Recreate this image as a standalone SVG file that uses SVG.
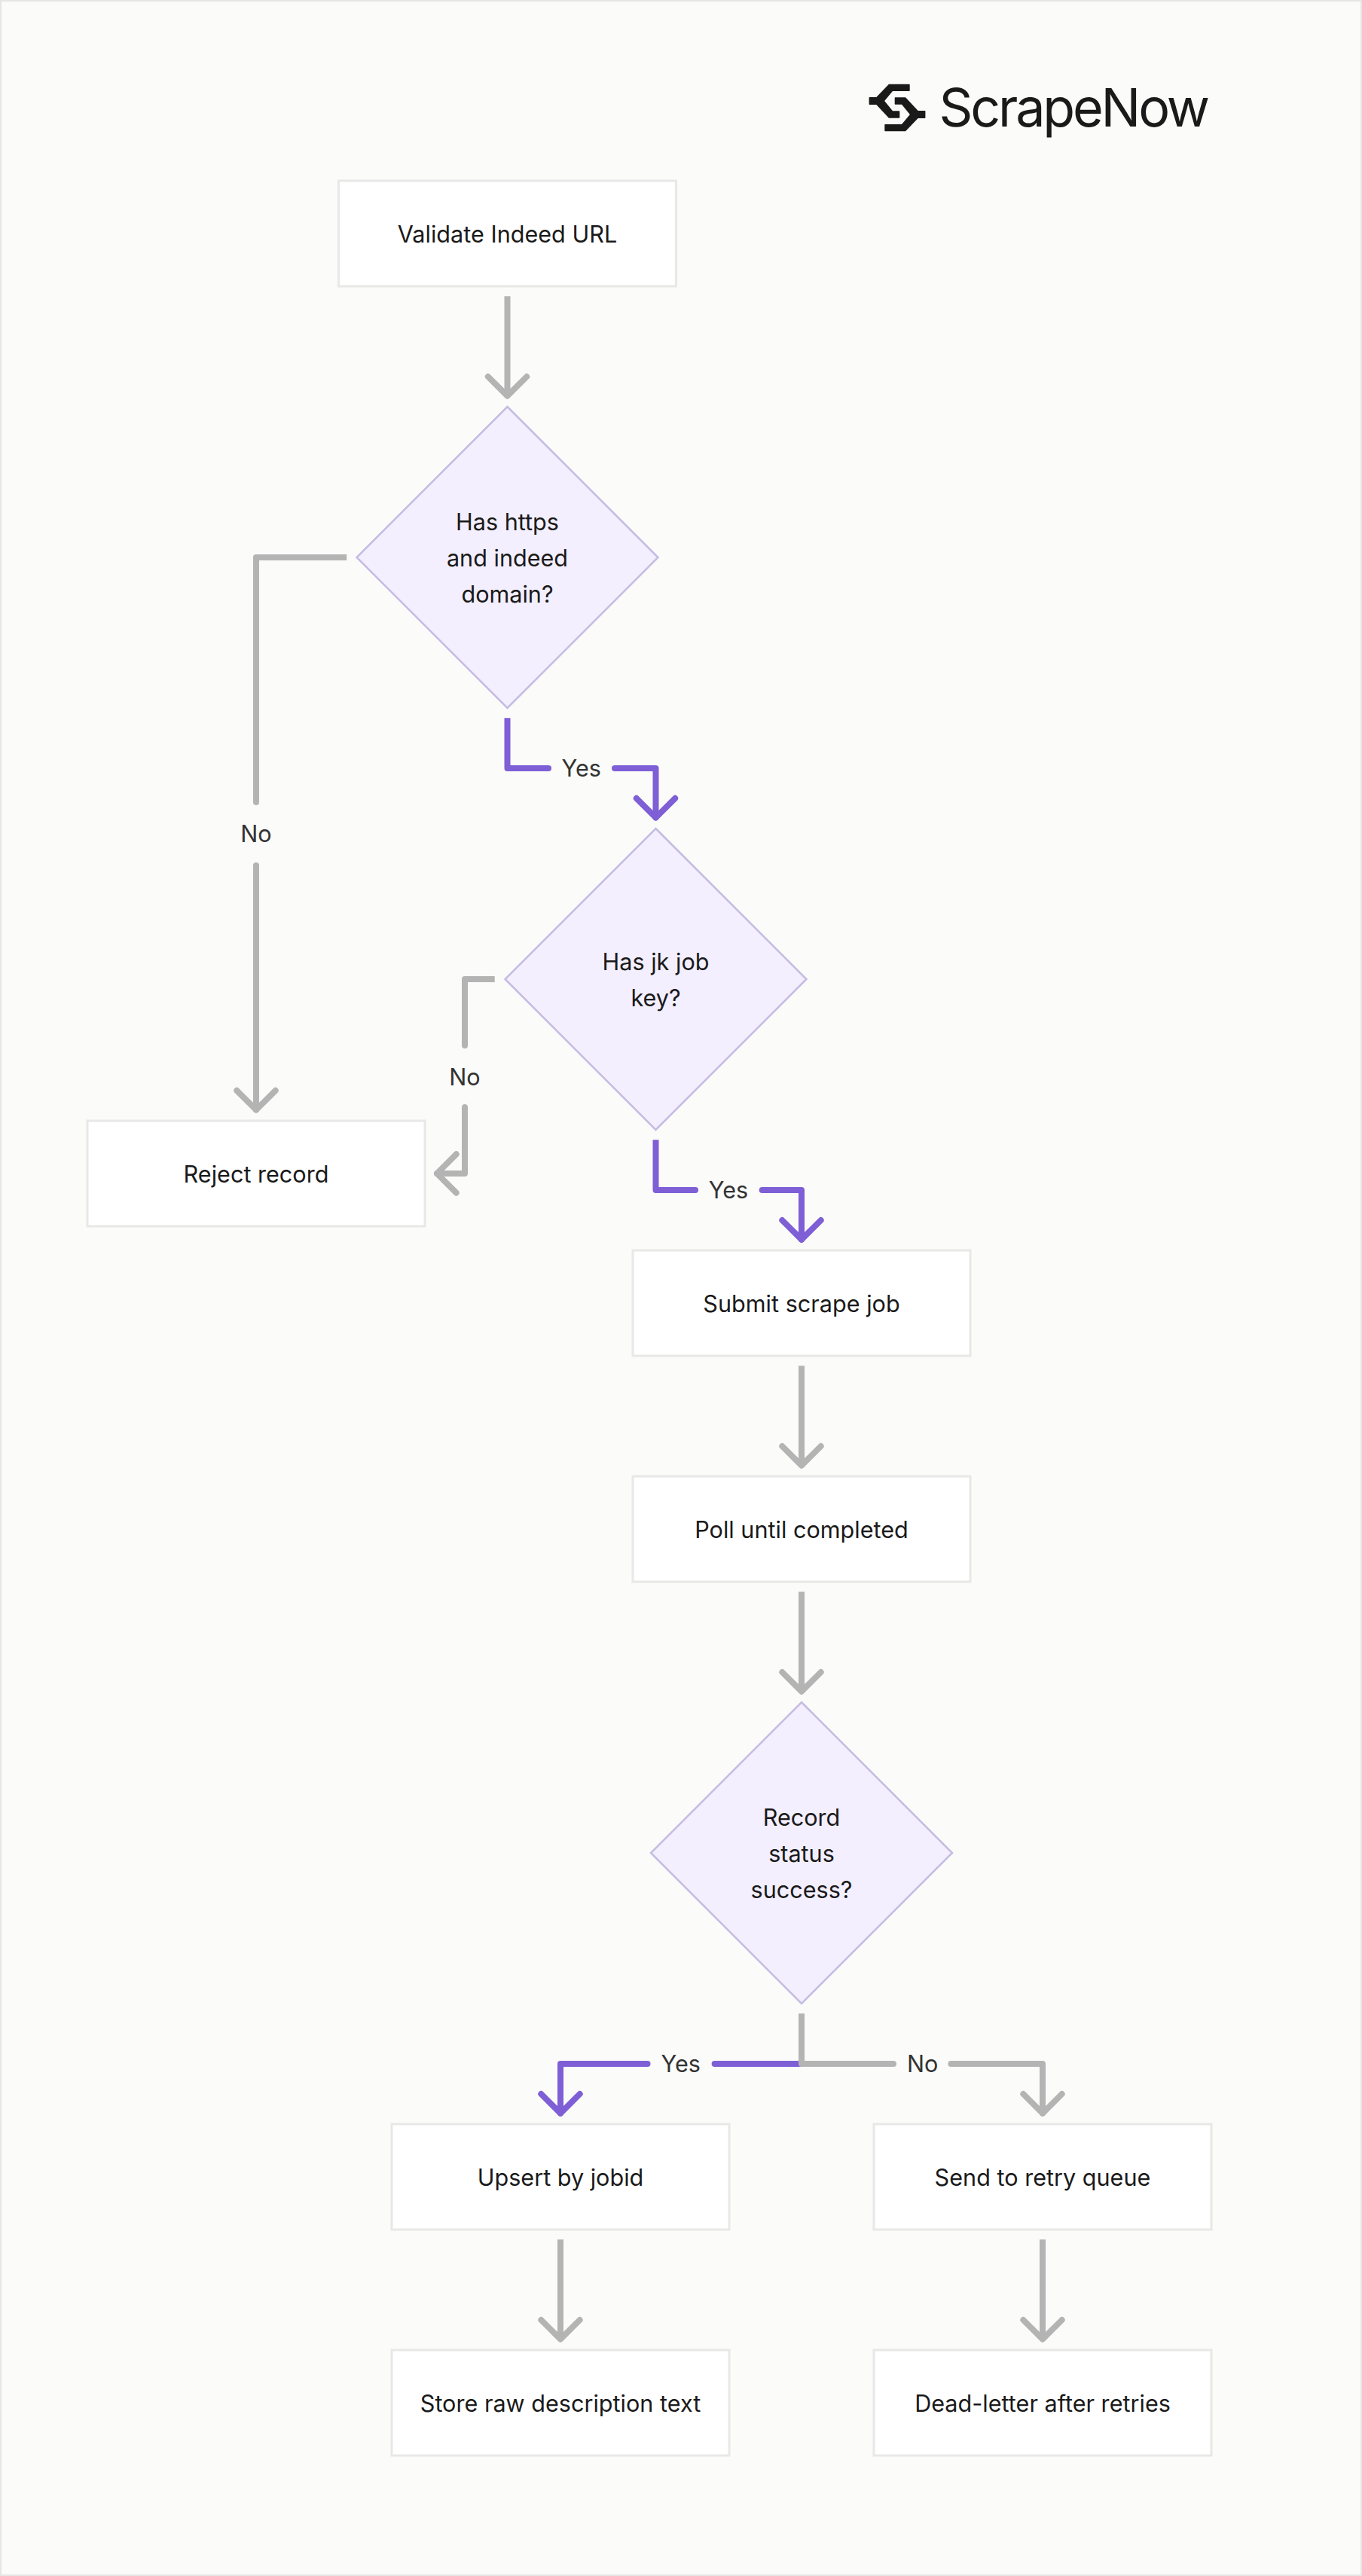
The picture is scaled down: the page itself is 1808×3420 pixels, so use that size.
<svg xmlns="http://www.w3.org/2000/svg" width="1808" height="3420" viewBox="0 0 1808 3420">
<style>
.bg{fill:#fbfbf9;stroke:#e6e6e6;stroke-width:2}
.box{fill:#fff;stroke:#e8e8e7;stroke-width:3}
.dia{fill:#f3effe;stroke:#c5bce3;stroke-width:2.5}
.t{font-family:"Inter","Liberation Sans",sans-serif;font-size:30.6px;fill:#1a1a1a;text-anchor:middle}
.l{font-family:"Inter","Liberation Sans",sans-serif;font-size:30.6px;fill:#333;text-anchor:middle}
.c{fill:none;stroke-width:8;stroke-linejoin:round;stroke-linecap:butt}
.r{stroke-linecap:round}
.g{stroke:#b4b4b4}
.p{stroke:#7e5fd6}
.cg{fill:#b4b4b4}
.cp{fill:#7e5fd6}
.logo{fill:#1a1a1a;stroke:#1a1a1a;stroke-width:1.4;stroke-linejoin:round}
.word{font-family:"Inter","Liberation Sans",sans-serif;font-weight:400;font-size:70px;fill:#1a1a1a}
</style>
<defs>
<marker id="ag" markerUnits="userSpaceOnUse" markerWidth="80" markerHeight="80" refX="40" refY="40" orient="auto" overflow="visible"><path d="M14.3 14.3L40 40L14.3 65.7" fill="none" stroke="#b4b4b4" stroke-width="8" stroke-linecap="round" stroke-linejoin="round"/></marker>
<marker id="ap" markerUnits="userSpaceOnUse" markerWidth="80" markerHeight="80" refX="40" refY="40" orient="auto" overflow="visible"><path d="M14.3 14.3L40 40L14.3 65.7" fill="none" stroke="#7e5fd6" stroke-width="8" stroke-linecap="round" stroke-linejoin="round"/></marker>
<path id="lg" d="M1207 112.4H1180.2L1163.6 129.7H1154.3V138.3H1163.6L1180.2 156H1193.6V148H1184.6L1173.2 134L1184.6 120.3H1207Z"/>
</defs>
<rect class="bg" x="1" y="1" width="1806" height="3418"/>
<g id="logo">
<use href="#lg" class="logo"/>
<use href="#lg" class="logo" transform="rotate(180 1191 143)"/>
<text class="word" x="1246.5" y="167.7" textLength="359.5">ScrapeNow</text>
</g>
<g id="connectors">
<path class="c g" marker-end="url(#ag)" d="M673.5 393.3V525.7"/>
<path class="c g" d="M460.2 740H340V1065"/>
<circle class="cg" cx="340" cy="1065" r="4"/>
<path class="c g r" marker-end="url(#ag)" d="M340 1149V1473.5"/>
<text class="l" x="340" y="1118">No</text>
<path class="c p" d="M673.5 953.3V1020H728"/>
<circle class="cp" cx="728" cy="1020" r="4"/>
<path class="c p r" marker-end="url(#ap)" d="M816 1020H870.5V1085.5"/>
<text class="l" x="771.7" y="1031">Yes</text>
<path class="c g" d="M656.7 1300H617V1388"/>
<circle class="cg" cx="617" cy="1388" r="4"/>
<path class="c g r" marker-end="url(#ag)" d="M617 1470V1558H580"/>
<text class="l" x="617" y="1441">No</text>
<path class="c p" d="M870.5 1513.3V1580H923"/>
<circle class="cp" cx="923" cy="1580" r="4"/>
<path class="c p r" marker-end="url(#ap)" d="M1011.7 1580H1064V1645.7"/>
<text class="l" x="967" y="1591">Yes</text>
<path class="c g" marker-end="url(#ag)" d="M1064 1813.3V1945.7"/>
<path class="c g" marker-end="url(#ag)" d="M1064 2113.3V2245.7"/>
<path class="c p" d="M1064 2740H948.6"/>
<circle class="cp" cx="948.6" cy="2740" r="4"/>
<path class="c p r" marker-end="url(#ap)" d="M859.5 2740H744V2805.7"/>
<text class="l" x="903.7" y="2751">Yes</text>
<path class="c g" d="M1064 2673.3V2740H1186"/>
<circle class="cg" cx="1186" cy="2740" r="4"/>
<path class="c g r" marker-end="url(#ag)" d="M1262.4 2740H1384V2805.7"/>
<text class="l" x="1224.7" y="2751">No</text>
<path class="c g" marker-end="url(#ag)" d="M744 2973.3V3105.7"/>
<path class="c g" marker-end="url(#ag)" d="M1384 2973.3V3105.7"/>
</g>
<g id="node-validate"><rect class="box" x="449.5" y="240" width="448" height="140"/><text class="t" x="673.5" y="321.7">Validate Indeed URL</text></g>
<g id="node-https"><polygon class="dia" points="673.5,540 873.5,740 673.5,940 473.5,740"/><text class="t" x="673.5" y="704">Has https</text><text class="t" x="673.5" y="752">and indeed</text><text class="t" x="673.5" y="800">domain?</text></g>
<g id="node-jk"><polygon class="dia" points="870.5,1100 1070.5,1300 870.5,1500 670.5,1300"/><text class="t" x="870.5" y="1288">Has jk job</text><text class="t" x="870.5" y="1336">key?</text></g>
<g id="node-reject"><rect class="box" x="116" y="1488" width="448" height="140"/><text class="t" x="340" y="1569.7">Reject record</text></g>
<g id="node-submit"><rect class="box" x="840" y="1660" width="448" height="140"/><text class="t" x="1064" y="1741.7">Submit scrape job</text></g>
<g id="node-poll"><rect class="box" x="840" y="1960" width="448" height="140"/><text class="t" x="1064" y="2041.7">Poll until completed</text></g>
<g id="node-status"><polygon class="dia" points="1064,2260 1264,2460 1064,2660 864,2460"/><text class="t" x="1064" y="2424">Record</text><text class="t" x="1064" y="2472">status</text><text class="t" x="1064" y="2520">success?</text></g>
<g id="node-upsert"><rect class="box" x="520" y="2820" width="448" height="140"/><text class="t" x="744" y="2901.7">Upsert by jobid</text></g>
<g id="node-store"><rect class="box" x="520" y="3120" width="448" height="140"/><text class="t" x="744" y="3201.7">Store raw description text</text></g>
<g id="node-retry"><rect class="box" x="1160" y="2820" width="448" height="140"/><text class="t" x="1384" y="2901.7">Send to retry queue</text></g>
<g id="node-dead"><rect class="box" x="1160" y="3120" width="448" height="140"/><text class="t" x="1384" y="3201.7">Dead-letter after retries</text></g>
</svg>
